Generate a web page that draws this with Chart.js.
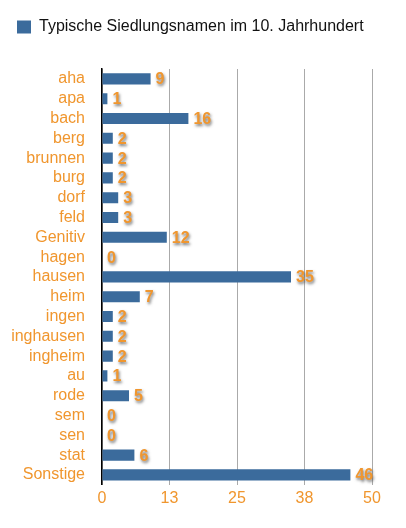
<!DOCTYPE html>
<html>
<head>
<meta charset="utf-8">
<script src="https://cdn.jsdelivr.net/npm/chart.js@4/dist/chart.umd.min.js"></script>
<style>
  html, body { margin: 0; padding: 0; background: #fff; }
  #wrap { width: 406px; height: 528px; }
</style>
</head>
<body>
<div id="wrap"><canvas id="myChart"></canvas></div>
<script>
const categories = ["aha", "apa", "bach", "berg", "brunnen", "burg", "dorf", "feld", "Genitiv", "hagen",
  "hausen", "heim", "ingen", "inghausen", "ingheim", "au", "rode", "sem", "sen", "stat", "Sonstige"];
const counts = [9, 1, 16, 2, 2, 2, 3, 3, 12, 0, 35, 7, 2, 2, 2, 1, 5, 0, 0, 6, 46];
const seriesName = "Typische Siedlungsnamen im 10. Jahrhundert";
const tickValues = [0, 12.5, 25, 37.5, 50];

const orange = "#f0962e";
const fontFam = "'Liberation Sans', Arial, sans-serif";

// value labels next to the bars, orange with a grey shadow
const valueLabels = {
  id: "valueLabels",
  afterDatasetsDraw(chart) {
    const ctx = chart.ctx;
    const meta = chart.getDatasetMeta(0);
    ctx.save();
    ctx.font = "bold 16px " + fontFam;
    ctx.textAlign = "left";
    ctx.textBaseline = "middle";
    meta.data.forEach((bar, i) => {
      ctx.shadowColor = "rgba(80,80,80,0.8)";
      ctx.shadowBlur = 3;
      ctx.shadowOffsetX = 1;
      ctx.shadowOffsetY = 2;
      ctx.fillStyle = orange;
      ctx.fillText(String(counts[i]), bar.x + 5, bar.y + 1);
    });
    ctx.restore();
  }
};

// more room between legend and plot
const legendGap = {
  id: "legendGap",
  beforeInit(chart) {
    const fit = chart.legend.fit;
    chart.legend.fit = function () {
      fit.bind(chart.legend)();
      this.height += 24;
    };
  }
};

new Chart(document.getElementById("myChart"), {
  type: "bar",
  data: {
    labels: categories,
    datasets: [{
      label: seriesName,
      data: counts,
      backgroundColor: "#3b6b9c",
      borderWidth: 0,
      barPercentage: 0.56,
      categoryPercentage: 1
    }]
  },
  options: {
    indexAxis: "y",
    responsive: true,
    maintainAspectRatio: false,
    devicePixelRatio: 1,
    animation: false,
    layout: { padding: { left: 6, right: 34, top: 8, bottom: 16 } },
    plugins: {
      legend: {
        position: "top",
        align: "start",
        labels: {
          boxWidth: 14,
          boxHeight: 13,
          padding: 11,
          color: "#111",
          font: { family: fontFam, size: 16 }
        }
      },
      tooltip: { enabled: false }
    },
    scales: {
      x: {
        min: 0,
        max: 50,
        afterBuildTicks(axis) { axis.ticks = tickValues.map(v => ({ value: v })); },
        grid: { color: "#aaaaaa", lineWidth: 1, drawTicks: false },
        border: { display: false },
        ticks: {
          color: orange,
          padding: 4,
          font: { family: fontFam, size: 16 },
          callback: v => Math.round(v)
        }
      },
      y: {
        afterFit(axis) { axis.width = 96; },
        grid: { display: false, drawTicks: false },
        border: { display: true, color: "#000", width: 1.5 },
        ticks: {
          color: orange,
          padding: 17,
          autoSkip: false,
          font: { family: fontFam, size: 16 }
        }
      }
    }
  },
  plugins: [valueLabels, legendGap]
});
</script>
</body>
</html>
